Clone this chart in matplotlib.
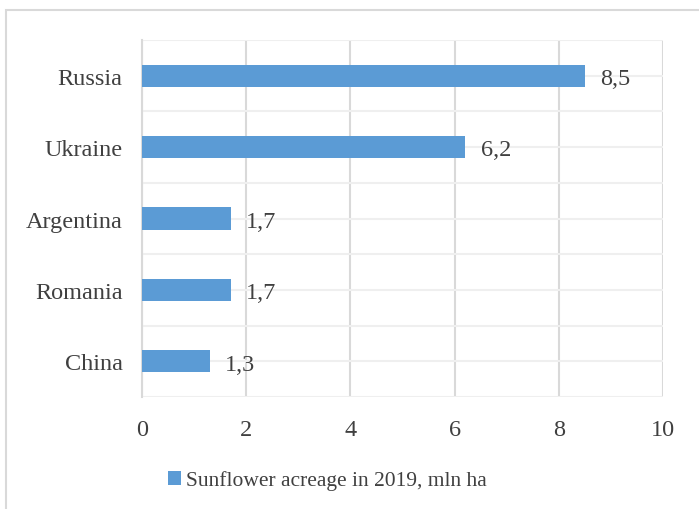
import matplotlib
matplotlib.use("Agg")
import matplotlib.pyplot as plt
from matplotlib.patches import Rectangle, Patch

countries = ["Russia", "Ukraine", "Argentina", "Romania", "China"]
acreage = [8.5, 6.2, 1.7, 1.7, 1.3]
x_ticks = [0, 2, 4, 6, 8, 10]
series_name = "Sunflower acreage in 2019, mln ha"

plt.rcParams["font.family"] = ["Liberation Serif", "DejaVu Serif"]
text_color = "#404040"
bar_color = "#5B9BD5"

fig = plt.figure(figsize=(6.99, 5.10), dpi=100)
ax = fig.add_axes([0.2031, 0.2196, 0.7454, 0.70])

ypos = list(range(len(countries)))
ax.barh(ypos, acreage, height=0.31, color=bar_color, zorder=3)

for y, v in zip(ypos, acreage):
    ax.text(v + 0.3, y + 0.04, f"{v:.1f}".replace(".", ","), va="center", ha="left",
            fontsize=17.5, color=text_color)

ax.set_xlim(0, 10)
ax.set_ylim(len(countries) - 0.5, -0.5)
ax.set_xticks(x_ticks)
ax.set_xticklabels([str(t) for t in x_ticks], fontsize=17.5, color=text_color)
ax.set_yticks(ypos)
ax.set_yticklabels(countries, fontsize=17.5, color=text_color)
ax.set_yticks([y - 0.5 for y in ypos] + [len(countries) - 0.5], minor=True)
ax.tick_params(axis="both", which="both", length=0)
ax.tick_params(axis="x", pad=16)
ax.tick_params(axis="y", pad=14)

ax.grid(axis="x", color="#d9d9d9", linewidth=1.5, zorder=0)
ax.grid(axis="y", which="both", color="#efefef", linewidth=1.5, zorder=0)
for side in ["top", "right", "bottom"]:
    ax.spines[side].set_visible(False)
ax.spines["left"].set_color("#d9d9d9")
ax.spines["left"].set_linewidth(1.5)

handle = Patch(facecolor=bar_color, edgecolor="none")
fig.legend([handle], [series_name], loc="center", bbox_to_anchor=(0.468, 0.056),
           frameon=False, fontsize=15.5, handlelength=0.6, handleheight=0.6,
           handletextpad=0.25, labelcolor=text_color)

# outer chart border
fig.patches.append(Rectangle((6 / 699, -0.05), 1.2, 1.05 - 11 / 510,
                             transform=fig.transFigure, fill=False,
                             edgecolor="#d9d9d9", linewidth=1.5))

fig.savefig("out.png", dpi=100)
